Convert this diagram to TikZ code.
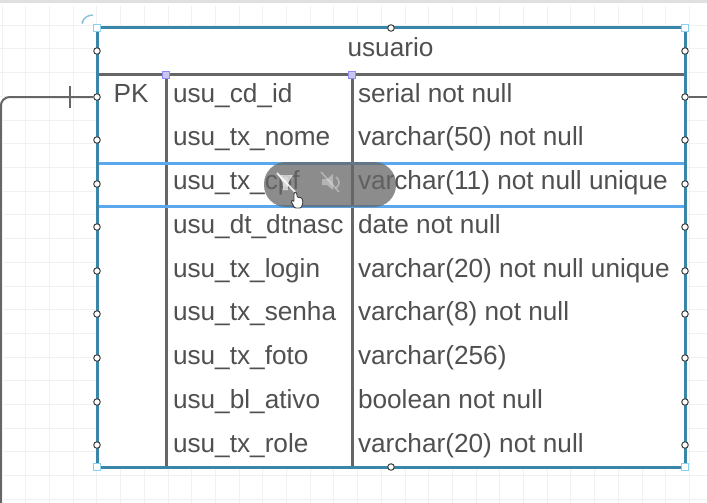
\documentclass[tikz,border=0pt]{standalone}
\usepackage{fontspec}
\setmainfont{Liberation Sans}
\usepackage{xcolor}
\usetikzlibrary{positioning,arrows.meta}
\definecolor{inkgray}{HTML}{505050}
\definecolor{linegray}{HTML}{666666}
\definecolor{framecol}{HTML}{3A86A8}
\definecolor{selcol}{HTML}{5BA8EE}
\definecolor{gridcol}{HTML}{F1F1F1}
\definecolor{handlecol}{HTML}{8CD0F0}
\definecolor{purplecol}{HTML}{C9C6F0}

\begin{document}
\begin{tikzpicture}[
	x=1pt, y=-1pt,
	every node/.style={font=\fontsize{26.2}{30}\selectfont, text=inkgray},
	cell/.style={inner sep=0pt, outer sep=0pt, text height=18pt, text depth=6pt, minimum height=43.75pt},
	sepline/.style={draw=linegray, line width=3pt},
	wire/.style={draw=linegray, line width=2pt, rounded corners=9pt},
	dot/.style={circle, draw=black!75, fill=white, line width=1pt, inner sep=0pt, minimum size=6.5pt},
	corner/.style={rectangle, draw=handlecol, fill=white, line width=1.2pt, inner sep=0pt, minimum size=7pt},
	tab/.style={rectangle, draw=purplecol!70!blue, fill=purplecol, line width=1pt, inner sep=0pt, minimum size=7pt},
	iconline/.style={draw=white, line width=1.6pt, opacity=.55}
	]
	
	\useasboundingbox (0,0) rectangle (707,503);
	\fill[white] (0,0) rectangle (707,503);
	\draw[gridcol, line width=.8pt, xstep=23.7pt, ystep=23.7pt, shift={(2pt,-1.5pt)}] (-2,5) grid (707,505);
	\fill[black!12] (0,0) rectangle (707,3);
	
	\node[draw=none, fill=white, minimum width=588pt, minimum height=439pt, inner sep=0pt] (Frame) at (391,247.5) {};
	
	\node[inner sep=0pt] (Titulo) at (390.5,47.5) {usuario};
	\node[cell, anchor=north] (Pk) at (131,74.3) {PK};
	
	\node[cell, anchor=north west] (UsuId) at (173,74.3) {usu\_cd\_id};
	\node[cell, below right=0pt of UsuId.south west] (UsuNome) {usu\_tx\_nome};
	\node[cell, below right=0pt of UsuNome.south west] (UsuCpf) {usu\_tx\_cpf};
	\node[cell, below right=0pt of UsuCpf.south west] (UsuNasc) {usu\_dt\_dtnasc};
	\node[cell, below right=0pt of UsuNasc.south west] (UsuLogin) {usu\_tx\_login};
	\node[cell, below right=0pt of UsuLogin.south west] (UsuSenha) {usu\_tx\_senha};
	\node[cell, below right=0pt of UsuSenha.south west] (UsuFoto) {usu\_tx\_foto};
	\node[cell, below right=0pt of UsuFoto.south west] (UsuAtivo) {usu\_bl\_ativo};
	\node[cell, below right=0pt of UsuAtivo.south west] (UsuRole) {usu\_tx\_role};
	
	\node[cell, anchor=north west] (TipoId) at (358,74.3) {serial not null};
	\node[cell, below right=0pt of TipoId.south west] (TipoNome) {varchar(50) not null};
	\node[cell, below right=0pt of TipoNome.south west] (TipoCpf) {varchar(11) not null unique};
	\node[cell, below right=0pt of TipoCpf.south west] (TipoNasc) {date not null};
	\node[cell, below right=0pt of TipoNasc.south west] (TipoLogin) {varchar(20) not null unique};
	\node[cell, below right=0pt of TipoLogin.south west] (TipoSenha) {varchar(8) not null};
	\node[cell, below right=0pt of TipoSenha.south west] (TipoFoto) {varchar(256)};
	\node[cell, below right=0pt of TipoFoto.south west] (TipoAtivo) {boolean not null};
	\node[cell, below right=0pt of TipoAtivo.south west] (TipoRole) {varchar(20) not null};
	
	% table lines
	\coordinate (HeadL) at (97,75);
	\coordinate (HeadR) at (685,75);
	\coordinate (BaseA) at (166,467);
	\coordinate (BaseB) at (352,467);
	\node[tab] (TabA) at (166,75) {};
	\node[tab] (TabB) at (352,75) {};
	\draw[sepline] (HeadL) -- (HeadR);
	\draw[sepline] (TabA) -- (BaseA);
	\draw[sepline] (TabB) -- (BaseB);
	\node[tab] at (TabA) {};
	\node[tab] at (TabB) {};
	
	% selected row
	\node[draw=selcol, line width=3pt, minimum width=588pt, minimum height=43pt, inner sep=0pt] (Linha) at (391,184.5) {};
	
	\node[draw=framecol, line width=3pt, minimum width=588pt, minimum height=439pt, inner sep=0pt] (Borda) at (Frame) {};
	
	% handles
	\node[dot] (L1) at (97,51) {};
	\node[dot] (L2) at (97,97) {};
	\node[dot] (L3) at (97,140) {};
	\node[dot] (L4) at (97,184) {};
	\node[dot] (L5) at (97,227) {};
	\node[dot] (L6) at (97,271) {};
	\node[dot] (L7) at (97,314) {};
	\node[dot] (L8) at (97,358) {};
	\node[dot] (L9) at (97,402) {};
	\node[dot] (L10) at (97,445) {};
	\node[dot] (R1) at (685,51) {};
	\node[dot] (R2) at (685,97) {};
	\node[dot] (R3) at (685,140) {};
	\node[dot] (R4) at (685,184) {};
	\node[dot] (R5) at (685,227) {};
	\node[dot] (R6) at (685,271) {};
	\node[dot] (R7) at (685,314) {};
	\node[dot] (R8) at (685,358) {};
	\node[dot] (R9) at (685,402) {};
	\node[dot] (R10) at (685,445) {};
	\node[dot] (Topo) at (391,28) {};
	\node[dot] (Base) at (391,467) {};
	\node[corner] (CantoA) at (97,28) {};
	\node[corner] (CantoB) at (685,28) {};
	\node[corner] (CantoC) at (97,467) {};
	\node[corner] (CantoD) at (685,467) {};
	
	% relations
	\coordinate (FimEsq) at (0.8,503);
	\coordinate (FimDir) at (707,97);
	\coordinate (TraceA) at (70,86);
	\coordinate (TraceB) at (70,108);
	\draw[wire] (L2) -- (0.8,97) -- (FimEsq);
	\draw[wire] (R2) -- (FimDir);
	\draw[wire] (TraceA) -- (TraceB);
	
	% rotate handle
	\draw[handlecol!80!gray, line width=1.4pt, -{Latex[length=3.5pt]}] (93,15) .. controls (87,15) and (83,19) .. (82,25);
	
	% floating toolbar
	\node[fill=black!60, fill opacity=.75, draw=none, rounded corners=22pt, minimum width=132pt, minimum height=45pt, inner sep=0pt] (Barra) at (330,184.5) {};
	\fill[white, opacity=.65] (278,175) -- (293,175) -- (288,183) -- (288,190) -- (283,190) -- (283,183) -- cycle;
	\draw[iconline, line width=1.8pt, opacity=.85] (277,173) -- (295,192);
	\fill[white, opacity=.35] (322,179) -- (327,179) -- (333,174) -- (333,190) -- (327,185) -- (322,185) -- cycle;
	\draw[iconline, opacity=.35] (336,177) .. controls (340,180) and (340,185) .. (336,188);
	\draw[iconline, opacity=.35] (321,172) -- (339,192);
	
	% hand cursor
	\draw[black!75, fill=white, line width=.9pt, rounded corners=1pt] (294,207) -- (291,201) -- (293,200) -- (294,202) -- (294,193) -- (296,192) -- (297,194) -- (297,197) -- (302,198) -- (303,203) -- (301,208) -- (295,208) -- cycle;
	
\end{tikzpicture}
\end{document}
